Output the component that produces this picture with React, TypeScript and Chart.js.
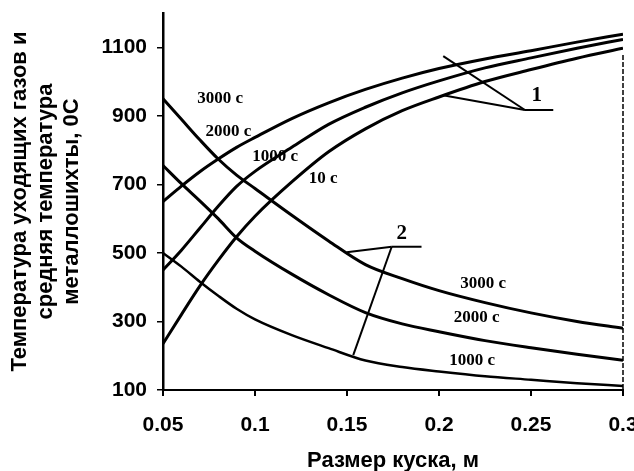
import React, { useEffect, useRef } from "react";
import { Chart, registerables } from "chart.js";
Chart.register(...registerables);

// Размер куска, м
const pieceSize = [0.05, 0.06, 0.07, 0.08, 0.09, 0.1, 0.12, 0.14, 0.16, 0.18, 0.2, 0.225, 0.25, 0.275, 0.3];
// Group 1: average charge temperature (rising)
const metalUpper = [650, 695, 737, 774, 808, 837, 892, 938, 977, 1010, 1038, 1066, 1090, 1115, 1138];
const metalMiddle = [450, 508, 572, 636, 694, 738, 808, 875, 925, 967, 1002, 1040, 1069, 1097, 1123];
const metalLower = [235, 320, 403, 478, 547, 607, 707, 795, 862, 915, 955, 1000, 1035, 1068, 1097];
// Group 2: off-gas temperature (falling)
const gas3000 = [950, 890, 830, 774, 727, 688, 610, 535, 466, 425, 390, 355, 325, 300, 280];
const gas2000 = [755, 702, 652, 600, 544, 505, 438, 378, 326, 293, 270, 244, 223, 204, 187];
const gas1000 = [500, 460, 416, 375, 337, 306, 260, 222, 186, 167, 154, 140, 130, 120, 112];

const xTicks = [0.05, 0.1, 0.15, 0.2, 0.25, 0.3];
const xTickLabels = ["0.05", "0.1", "0.15", "0.2", "0.25", "0.3"];
const yTicks = [100, 300, 500, 700, 900, 1100];
const yTickLabels = ["100", "300", "500", "700", "900", "1100"];

const yTitle = ["Температура уходящих газов и", "средняя температура", "металлошихты, 0С"];
const xTitle = "Размер куска, м";

// curve annotations (data coordinates)
const curveLabels = ["3000 с", "2000 с", "1000 с", "10 с", "3000 с", "2000 с", "1000 с"];
const curveLabelSize = [0.081, 0.0855, 0.1109, 0.137, 0.224, 0.2205, 0.218];
const curveLabelTemp = [951, 854, 780, 716, 411, 312, 187];

// callouts "1" and "2"
const calloutText = ["1", "2"];
const calloutTextSize = [0.2531, 0.1797];
const calloutTextTemp = [958, 555];
const calloutSegments = [
  [[0.2023, 1074], [0.2467, 917]],
  [[0.2022, 960], [0.2467, 917]],
  [[0.2467, 917], [0.2621, 917]],
  [[0.1498, 502], [0.1743, 518]],
  [[0.1534, 202], [0.1743, 518]],
  [[0.1743, 518], [0.1905, 518]],
];

const SANS = "'Liberation Sans', Arial, sans-serif";
const SERIF = "'Liberation Serif', 'Times New Roman', serif";

const toPoints = (ys: number[]) => ys.map((y, i) => ({ x: pieceSize[i], y }));

const annotationPlugin = {
  id: "annotations",
  afterDatasetsDraw(chart: any) {
    const { ctx, chartArea, scales } = chart;
    const xs = scales.x;
    const ys = scales.y;
    ctx.save();
    // right dashed frame
    ctx.strokeStyle = "#000";
    ctx.lineWidth = 1.5;
    ctx.setLineDash([5, 2]);
    ctx.beginPath();
    ctx.moveTo(chartArea.right, chartArea.top + 42);
    ctx.lineTo(chartArea.right, chartArea.bottom);
    ctx.stroke();
    ctx.setLineDash([]);

    // callout lines
    ctx.lineWidth = 2;
    calloutSegments.forEach((seg) => {
      ctx.beginPath();
      ctx.moveTo(xs.getPixelForValue(seg[0][0]), ys.getPixelForValue(seg[0][1]));
      ctx.lineTo(xs.getPixelForValue(seg[1][0]), ys.getPixelForValue(seg[1][1]));
      ctx.stroke();
    });

    ctx.fillStyle = "#000";
    ctx.textAlign = "center";
    ctx.textBaseline = "middle";
    ctx.font = `bold 17px ${SERIF}`;
    curveLabels.forEach((t, i) => {
      ctx.fillText(t, xs.getPixelForValue(curveLabelSize[i]), ys.getPixelForValue(curveLabelTemp[i]));
    });
    ctx.font = `bold 21px ${SERIF}`;
    calloutText.forEach((t, i) => {
      ctx.fillText(t, xs.getPixelForValue(calloutTextSize[i]), ys.getPixelForValue(calloutTextTemp[i]));
    });
    ctx.restore();
  },
};

export default function App() {
  const ref = useRef<HTMLCanvasElement>(null);
  useEffect(() => {
    if (!ref.current) return;
    const mk = (data: number[], w: number) => ({
      data: toPoints(data),
      borderColor: "#000",
      borderWidth: w,
      pointRadius: 0,
      fill: false,
      cubicInterpolationMode: "monotone" as const,
    });
    const chart = new Chart(ref.current, {
      type: "line",
      data: {
        datasets: [
          mk(metalUpper, 3),
          mk(metalMiddle, 3),
          mk(metalLower, 3),
          mk(gas3000, 3),
          mk(gas2000, 3),
          mk(gas1000, 2.5),
        ],
      },
      options: {
        responsive: false,
        animation: false,
        layout: { padding: { left: 0, top: 13, right: 27, bottom: 0 } },
        plugins: { legend: { display: false }, tooltip: { enabled: false } },
        scales: {
          x: {
            type: "linear",
            min: 0.05,
            max: 0.3,
            afterBuildTicks: (s: any) => {
              s.ticks = xTicks.map((v) => ({ value: v }));
            },
            afterFit: (s: any) => {
              s.height = 81;
              s.paddingLeft = 0;
              s.paddingRight = 0;
            },
            ticks: {
              color: "#000",
              font: { family: SANS, size: 21, weight: "bold" },
              padding: 17,
              maxRotation: 0,
              autoSkip: false,
              callback: (v: any) => {
                const i = xTicks.findIndex((t) => Math.abs(t - v) < 1e-9);
                return i >= 0 ? xTickLabels[i] : "";
              },
            },
            grid: { display: true, drawOnChartArea: false, drawTicks: true, tickLength: 6, color: "#000", lineWidth: 2 },
            border: { display: true, color: "#000", width: 2 },
            title: {
              display: true,
              text: xTitle,
              color: "#000",
              font: { family: SANS, size: 22, weight: "bold" },
              padding: { top: 0, bottom: -3 },
            },
          },
          y: {
            type: "linear",
            min: 100,
            max: 1200,
            afterBuildTicks: (s: any) => {
              s.ticks = yTicks.map((v) => ({ value: v }));
            },
            afterFit: (s: any) => {
              s.width = 163;
              s.paddingTop = 0;
              s.paddingBottom = 0;
            },
            ticks: {
              color: "#000",
              font: { family: SANS, size: 21, weight: "bold" },
              padding: 10,
              autoSkip: false,
              callback: (v: any) => {
                const i = yTicks.indexOf(Number(v));
                return i >= 0 ? yTickLabels[i] : "";
              },
            },
            grid: { display: true, drawOnChartArea: false, drawTicks: true, tickLength: 6, color: "#000", lineWidth: 1.5 },
            border: { display: true, color: "#000", width: 2.5 },
            title: {
              display: true,
              text: yTitle,
              color: "#000",
              font: { family: SANS, size: 22, weight: "bold", lineHeight: 1.18 },
              padding: { top: 7, bottom: 0 },
            },
          },
        },
      },
      plugins: [annotationPlugin],
    });
    return () => chart.destroy();
  }, []);
  return (
    <div style={{ position: "fixed", left: 0, top: 0, width: 634, height: 471, overflow: "hidden", background: "#fff" }}>
      <canvas ref={ref} width={650} height={471} style={{ display: "block" }} />
    </div>
  );
}
